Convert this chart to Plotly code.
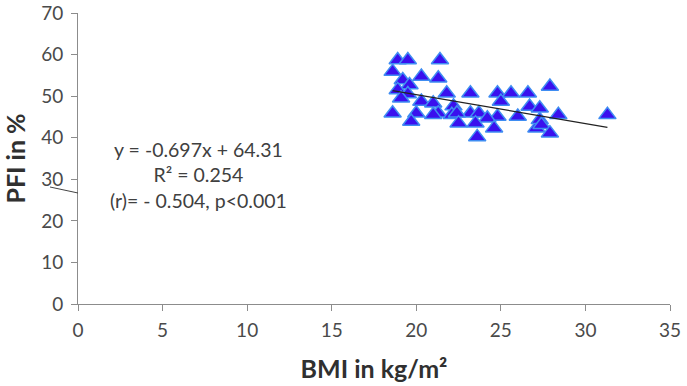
import plotly.graph_objects as go

# BMI (kg/m2) and PFI (%)
bmi = [18.9, 19.5, 21.4, 18.6, 20.3, 19.2, 21.3, 19.6, 18.9, 19.5,
       19.1, 20.3, 21.8, 18.6, 20.0, 21.0, 21.3, 22.2, 19.7, 22.1,
       21.0, 23.2, 24.8, 25.6, 26.6, 25.0, 23.2, 23.7, 22.4, 24.8,
       26.0, 26.7, 24.2, 22.5, 23.5, 24.6, 23.6, 27.1, 27.9, 27.3,
       28.4, 27.3, 27.4, 27.9, 31.3]
pfi = [58.7, 58.7, 58.7, 55.9, 54.7, 53.9, 54.3, 52.7, 51.5, 50.5,
       49.5, 48.7, 50.7, 45.9, 45.9, 48.3, 45.9, 47.6, 43.9, 45.5,
       45.5, 50.7, 50.7, 50.7, 50.7, 48.7, 45.9, 45.9, 45.9, 45.1,
       45.1, 47.5, 44.7, 43.5, 43.5, 42.3, 40.2, 42.3, 52.3, 47.1,
       45.5, 44.3, 43.1, 41.1, 45.5]

slope = -0.697
intercept = 64.31
trend_x = [min(bmi), max(bmi)]
trend_y = [slope * v + intercept for v in trend_x]

x_ticks = [0, 5, 10, 15, 20, 25, 30, 35]
y_ticks = [0, 10, 20, 30, 40, 50, 60, 70]

stats_text = "y = -0.697x + 64.31<br>R² = 0.254<br>(r)= - 0.504, p<0.001"

font_family = "Lato, 'Open Sans', sans-serif"
text_color = "#404040"

fig = go.Figure()
fig.add_trace(go.Scatter(
    x=bmi, y=pfi, mode="markers",
    marker=dict(symbol="triangle-up", size=15, color="#3a10ee",
                line=dict(color="#3f8df2", width=1.5)),
    showlegend=False, hoverinfo="x+y"))
fig.add_trace(go.Scatter(
    x=trend_x, y=trend_y, mode="lines",
    line=dict(color="#222222", width=1.2),
    showlegend=False, hoverinfo="skip"))

fig.update_layout(
    width=687, height=386,
    margin=dict(l=78, r=17, t=13, b=82),
    paper_bgcolor="white", plot_bgcolor="white",
    font=dict(family=font_family, color=text_color, size=18),
    xaxis=dict(range=[0, 35], tickvals=x_ticks, showgrid=False, zeroline=False,
               automargin=False,
               showline=True, linecolor="#8c8c8c", linewidth=1,
               ticks="outside", ticklen=6, tickcolor="#8c8c8c",
               ticklabelstandoff=3,
               tickfont=dict(size=19, color="#4a4a4a"),
               title=dict(text="<b>BMI in kg/m²</b>", font=dict(size=25, color="#303030"),
                          standoff=20)),
    yaxis=dict(range=[0, 70], tickvals=y_ticks, showgrid=False, zeroline=False,
               automargin=False,
               showline=True, linecolor="#8c8c8c", linewidth=1,
               ticks="outside", ticklen=6, tickcolor="#8c8c8c",
               ticklabelstandoff=4,
               tickfont=dict(size=19, color="#4a4a4a"),
               title=dict(text="<b>PFI in %</b>", font=dict(size=25, color="#303030"),
                          standoff=12)),
    annotations=[dict(
        text=stats_text, xref="paper", yref="paper",
        x=(198 - 78) / 592, y=(304 - 175) / 291,
        xanchor="center", yanchor="middle", showarrow=False,
        align="center", font=dict(size=19.5, color=text_color))],
    shapes=[dict(type="line", xref="paper", yref="paper",
                 x0=(50 - 78) / 592, y0=(304 - 187) / 291,
                 x1=0, y1=(304 - 193) / 291,
                 line=dict(color="#444444", width=1))],
)

fig.write_html("out.html", config={"displayModeBar": False},
               post_script="document.body.style.margin='0';document.body.style.overflow='hidden';")
